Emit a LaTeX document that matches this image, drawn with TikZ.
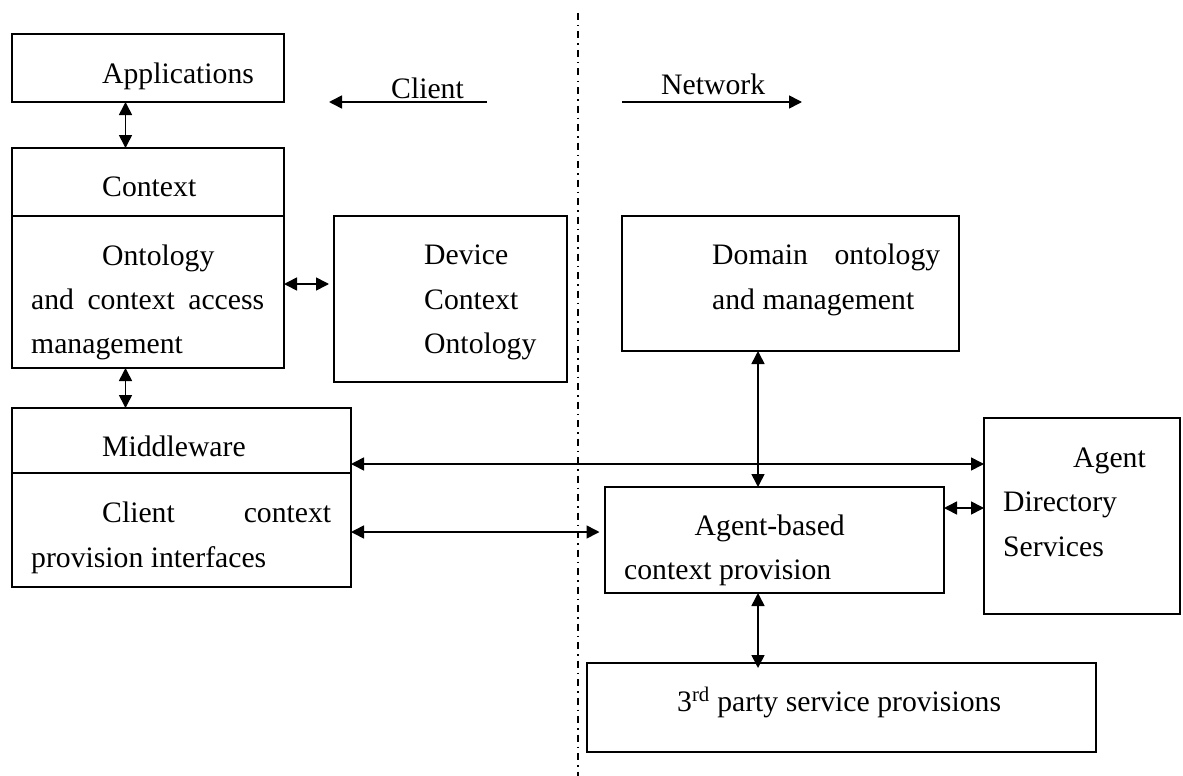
\documentclass[tikz,border=0pt]{standalone}
\usepackage{fontspec}
\setmainfont{Liberation Serif}
\usetikzlibrary{arrows.meta}
\begin{document}
\begin{tikzpicture}[x=1pt,y=-1pt,
  every node/.style={font=\fontsize{29.7}{44}\selectfont},
  box/.style={draw,line width=2pt,anchor=north west,inner sep=0pt,outer sep=0pt},
  txt/.style={anchor=base west,inner sep=0pt},
  conn/.style={line width=1.6pt,{Triangle[length=13pt,width=13pt]}-{Triangle[length=13pt,width=13pt]}},
  single/.style={line width=1.6pt,-{Triangle[length=13pt,width=13pt]}},
  boundary/.style={line width=1.2pt,dash pattern=on 7pt off 5pt on 1.5pt off 5pt}]
\useasboundingbox (0,0) rectangle (1183,776);

% client / network boundary
\coordinate (bt) at (578,13);
\coordinate (bb) at (578,776);
\draw[boundary] (bt) -- (bb);

% side labels
\coordinate (cl1) at (487,102);
\coordinate (cl2) at (329,102);
\draw[single] (cl1) -- (cl2);
\node[txt] (client) at (391,98) {Client};
\coordinate (nw1) at (622,102);
\coordinate (nw2) at (802,102);
\draw[single] (nw1) -- (nw2);
\node[txt] (network) at (661,95) {Network};

% client side boxes
\node[box,minimum width=272.5pt,minimum height=68pt] (app) at (11.5,34) {};
\node[txt] (tapp) at (102,83) {Applications};

\node[box,minimum width=272.5pt,minimum height=220pt] (ctx) at (11.5,148) {};
\draw[line width=2pt] (ctx.west |- 0,216) -- (ctx.east |- 0,216);
\node[txt] (tctx) at (102,196) {Context};
\node[txt] (tctx1) at (102,265) {Ontology};
\node[txt] (tctx2) at (31,309) {\makebox[233pt][s]{and\hfill context\hfill access}};
\node[txt] (tctx3) at (31,353) {management};

\node[box,minimum width=233pt,minimum height=166pt] (dev) at (334,216) {};
\node[txt] (tdev1) at (424,264) {Device};
\node[txt] (tdev2) at (424,309) {Context};
\node[txt] (tdev3) at (424,353) {Ontology};

\node[box,minimum width=339.5pt,minimum height=179pt] (mid) at (11.5,408) {};
\draw[line width=2pt] (mid.west |- 0,473) -- (mid.east |- 0,473);
\node[txt] (tmid) at (102,456) {Middleware};
\node[txt] (tmid1) at (102,522) {\makebox[229pt][s]{Client\hfill context}};
\node[txt] (tmid2) at (31,567) {provision interfaces};

% network side boxes
\node[box,minimum width=337pt,minimum height=135pt] (dom) at (622,216) {};
\node[txt] (tdom1) at (712,264) {\makebox[228pt][s]{Domain\hfill ontology}};
\node[txt] (tdom2) at (712,309) {and management};

\node[box,minimum width=339.5pt,minimum height=106pt] (agb) at (604.5,487) {};
\node[txt] (tagb1) at (694.5,535) {Agent-based};
\node[txt] (tagb2) at (624,579) {context provision};

\node[box,minimum width=196pt,minimum height=196pt] (dir) at (984,418) {};
\node[txt] (tdir1) at (1073,467) {Agent};
\node[txt] (tdir2) at (1003,511) {Directory};
\node[txt] (tdir3) at (1003,556) {Services};

\node[box,minimum width=509pt,minimum height=89pt] (third) at (587,663) {};
\node[txt] (tthird) at (677,711) {3\textsuperscript{rd} party service provisions};

% connectors
\draw[conn] (125.5,0 |- app.south) -- (125.5,0 |- ctx.north);
\draw[conn] (ctx.east |- 0,284) -- ([xshift=-5pt]dev.west |- 0,284);
\draw[conn] (125.5,0 |- ctx.south) -- (125.5,0 |- mid.north);
\draw[conn] (mid.east |- 0,464) -- (dir.west |- 0,464);
\draw[conn] (mid.east |- 0,532) -- ([xshift=-5pt]agb.west |- 0,532);
\draw[conn] (758,0 |- dom.south) -- (758,0 |- agb.north);
\draw[conn] (agb.east |- 0,508) -- (dir.west |- 0,508);
\draw[conn] (758,0 |- agb.south) -- ([yshift=-5pt]758,0 |- third.north);
\end{tikzpicture}
\end{document}
